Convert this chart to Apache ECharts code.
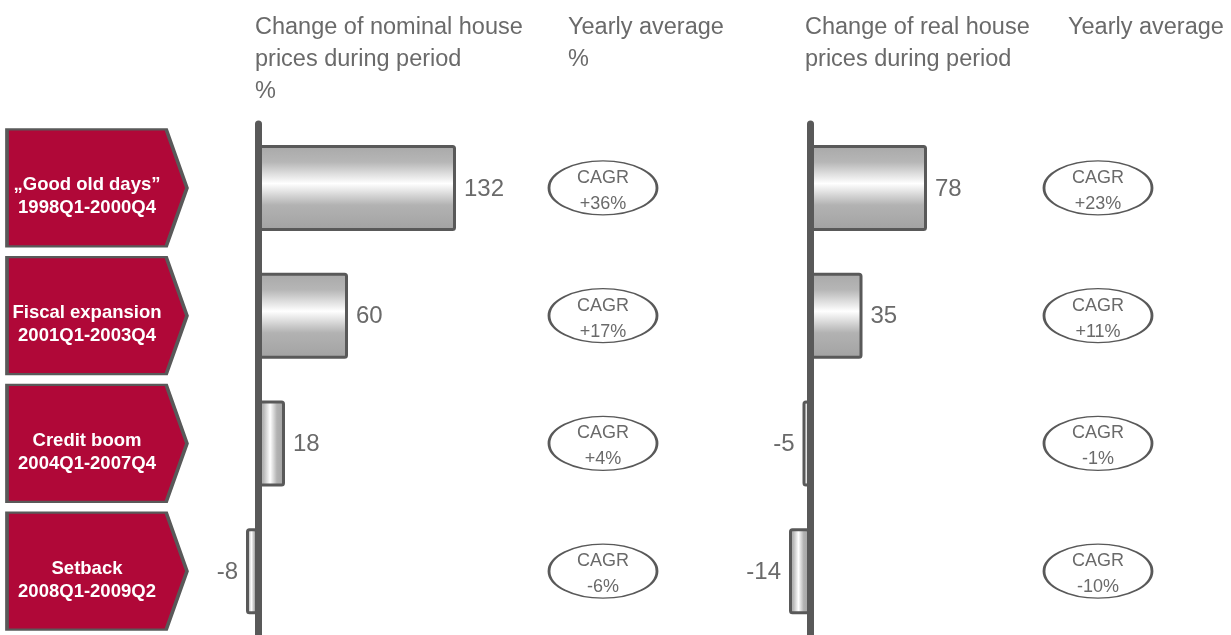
<!DOCTYPE html>
<html>
<head>
<meta charset="utf-8">
<script src="https://cdn.jsdelivr.net/npm/echarts@6/dist/echarts.min.js"></script>
<style>
html,body{margin:0;padding:0;background:#fff;}
#chart{width:1231px;height:635px;}
</style>
</head>
<body>
<div id="chart"></div>
<script>
const categories = ['\u201eGood old days\u201d', 'Fiscal expansion', 'Credit boom', 'Setback'];
const periods = ['1998Q1-2000Q4', '2001Q1-2003Q4', '2004Q1-2007Q4', '2008Q1-2009Q2'];
const nominalChange = [132, 60, 18, -8];
const realChange = [78, 35, -5, -14];
const nominalCagr = ['+36%', '+17%', '+4%', '-6%'];
const realCagr = ['+23%', '+11%', '-1%', '-10%'];
const headers = [
  'Change of nominal house\nprices during period\n%',
  'Yearly average\n%',
  'Change of real house\nprices during period',
  'Yearly average'
];

const FONT = '"Liberation Sans", Arial, Helvetica, sans-serif';
const GRAY = '#595959';
const TEXT = '#6a6a6a';
const TOP = 124, H = 514;

function barFill(v) {
  const horizontal = Math.abs(v) < 25;
  return {
    type: 'linear', x: 0, y: 0, x2: horizontal ? 1 : 0, y2: horizontal ? 0 : 1,
    colorStops: [
      { offset: 0, color: '#a8a8a8' },
      { offset: 0.2, color: '#b6b6b6' },
      { offset: 0.45, color: '#ffffff' },
      { offset: 0.7, color: '#b2b2b2' },
      { offset: 1, color: '#a2a2a2' }
    ]
  };
}

function barData(values) {
  return values.map(v => ({
    value: v,
    itemStyle: { color: barFill(v) },
    label: { position: v < 0 ? 'left' : 'right' }
  }));
}

function barSeries(values, axisIdx) {
  return {
    type: 'bar', xAxisIndex: axisIdx, yAxisIndex: axisIdx,
    data: barData(values), barWidth: 86, silent: true,
    itemStyle: { borderColor: GRAY, borderWidth: 3, borderRadius: 2 },
    label: { show: true, distance: 8, offset: [0, 1], fontFamily: FONT, fontSize: 24, color: TEXT }
  };
}

const ellipsePath = 'path://M0,28A55,28,0,1,1,110,28A55,28,0,1,1,0,28Z';
function cagrSeries(values, axisIdx) {
  return {
    type: 'scatter', xAxisIndex: axisIdx, yAxisIndex: axisIdx, silent: true,
    symbol: ellipsePath, symbolSize: [108, 54],
    itemStyle: { color: '#ffffff', borderColor: GRAY, borderWidth: 2, opacity: 1 },
    data: values.map((v, i) => [0, i]),
    label: {
      show: true, position: 'inside', offset: [0, 3], fontFamily: FONT, fontSize: 18, lineHeight: 26, color: TEXT,
      formatter: p => 'CAGR\n' + values[p.dataIndex]
    }
  };
}

const gridDefs = [
  { left: 6, width: 182 },
  { left: 228, width: 240 },
  { left: 549, width: 108 },
  { left: 780, width: 240 },
  { left: 1044, width: 108 }
];

const option = {
  animation: false,
  title: [
    { left: 255, top: 12 }, { left: 568, top: 12 }, { left: 805, top: 12 }, { left: 1068, top: 12 }
  ].map((pos, i) => ({
    text: headers[i], left: pos.left, top: pos.top, padding: 0,
    textStyle: { fontFamily: FONT, fontSize: 23.5, fontWeight: 'normal', color: TEXT, lineHeight: 32 }
  })),
  grid: gridDefs.map(g => ({ left: g.left, width: g.width, top: TOP, height: H, containLabel: false })),
  xAxis: [
    { gridIndex: 0, type: 'category', data: ['Period'], show: false },
    { gridIndex: 1, type: 'value', min: -20, max: 140, show: false },
    { gridIndex: 2, type: 'category', data: ['Yearly average'], show: false },
    { gridIndex: 3, type: 'value', min: -20, max: 140, show: false },
    { gridIndex: 4, type: 'category', data: ['Yearly average'], show: false }
  ],
  yAxis: [0, 1, 2, 3, 4].map(i => ({
    gridIndex: i, type: 'category', data: categories, inverse: true,
    show: i === 1 || i === 3, z: 10,
    axisLine: { show: true, onZero: true, lineStyle: { color: GRAY, width: 7, cap: 'round' } },
    axisTick: { show: false }, axisLabel: { show: false }, splitLine: { show: false }
  })),
  series: [
    {
      type: 'scatter', xAxisIndex: 0, yAxisIndex: 0, silent: true,
      symbol: 'path://M0,0L161,0L182,59L161,118L0,118Z', symbolSize: [180, 117],
      itemStyle: { color: '#B00838', borderColor: GRAY, borderWidth: 3, opacity: 1 },
      data: categories.map((c, i) => [0, i]),
      label: {
        show: true, position: 'inside', offset: [-10, 9],
        fontFamily: FONT, fontSize: 18.5, fontWeight: 'bold', lineHeight: 23, color: '#ffffff',
        formatter: p => categories[p.dataIndex] + '\n' + periods[p.dataIndex]
      }
    },
    barSeries(nominalChange, 1),
    cagrSeries(nominalCagr, 2),
    barSeries(realChange, 3),
    cagrSeries(realCagr, 4)
  ]
};

echarts.init(document.getElementById('chart'), null, { renderer: 'canvas' }).setOption(option);
</script>
</body>
</html>
